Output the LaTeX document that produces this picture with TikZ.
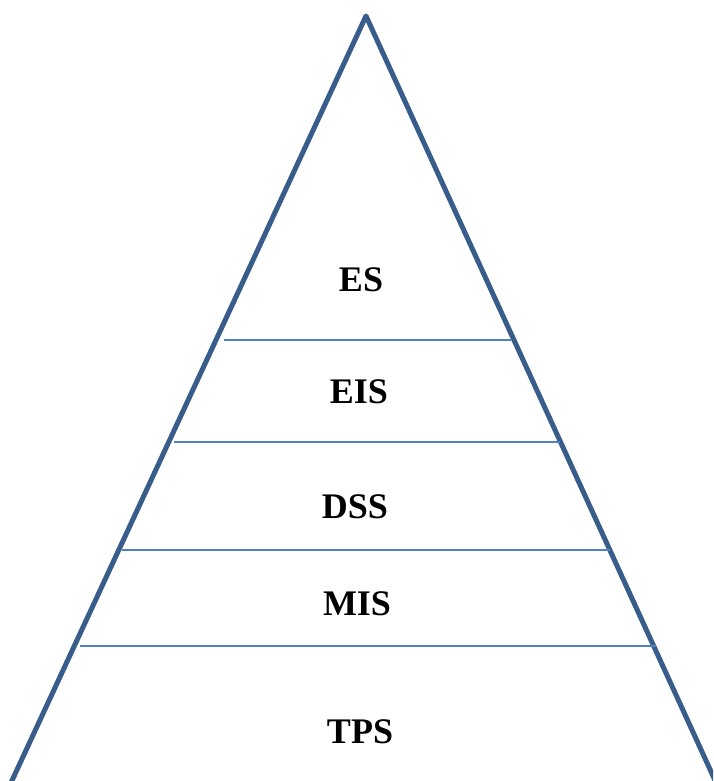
\documentclass[tikz,border=0pt]{standalone}
\usepackage{fontspec}
\setmainfont{Liberation Serif}
\usepackage{tikz}
\definecolor{pyredge}{RGB}{56,93,138}
\definecolor{pyrline}{RGB}{79,129,189}

\begin{document}
\begin{tikzpicture}[x=1pt, y=-1pt,
  edge/.style={draw=pyredge, line width=5pt, line join=round},
  layer/.style={draw=pyrline, line width=2pt},
  lvl/.style={font=\bfseries\fontsize{36}{42}\selectfont, inner sep=0pt}]
\useasboundingbox (0,0) rectangle (713,781);
\clip (0,0) rectangle (713,781);
%%%%% Pyramid %%%%%
\draw[edge] (3,800) -- (366,16) -- (724,800);
%%%%% Layers %%%%%
\draw[layer] (224,340) -- (512,340);
\draw[layer] (174,442) -- (560,442);
\draw[layer] (122,550) -- (610,550);
\draw[layer] (80,646) -- (656,646);
%%%%% Labels %%%%%
\node[lvl] (es)  at (361,280) {ES};
\node[lvl] (eis) at (359,392) {EIS};
\node[lvl] (dss) at (355,507) {DSS};
\node[lvl] (mis) at (357,604) {MIS};
\node[lvl] (tps) at (360,732) {TPS};
\end{tikzpicture}
\end{document}
